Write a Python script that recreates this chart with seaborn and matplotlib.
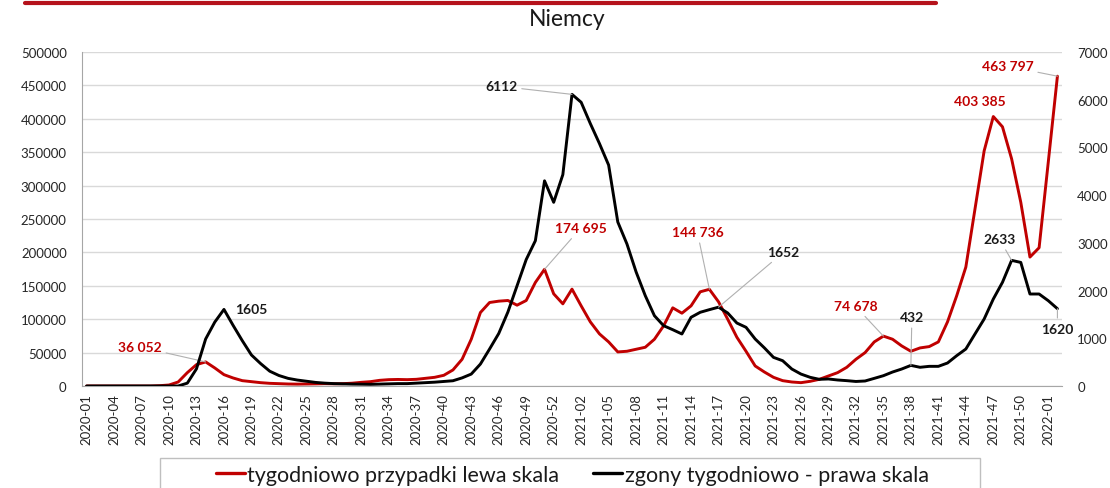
import pandas as pd
import matplotlib.pyplot as plt
import seaborn as sns
from matplotlib.lines import Line2D
from matplotlib.patches import Rectangle

OUT_PATH = "out.png"

RED = "#C00000"
BLACK = "#000000"
GREY = "#A6A6A6"

# week labels 2020-01 .. 2022-02 (2020 has 53 ISO weeks)
WEEKS = ([f"2020-{w:02d}" for w in range(1, 54)]
         + [f"2021-{w:02d}" for w in range(1, 53)]
         + ["2022-01", "2022-02"])

# weekly cases (left scale)
CASES = [
    0, 0, 0, 0, 0, 0, 0, 0, 500, 1500,
    6000, 20000, 32000, 36052, 27000, 17000, 12000, 8000, 6500, 5000,
    4000, 3500, 3000, 2800, 3000, 3200, 3500, 3300, 3500, 4200,
    5500, 6500, 8500, 9500, 9800, 9500, 10000, 11500, 13000, 16000,
    24000, 40000, 70000, 110000, 125000, 127000, 128000, 121000, 128000, 155000,
    174695, 138000, 123000, 145000, 120000, 96000, 78000, 66000, 51000, 52000,
    55000, 58000, 70000, 90000, 117000, 109000, 120000, 141000, 144736, 126000,
    100000, 73000, 52000, 30000, 21000, 13000, 8000, 6000, 5000, 7000,
    10000, 15000, 20000, 28000, 40000, 50000, 66000, 74678, 70000, 60000,
    52000, 57000, 59000, 66000, 96000, 135000, 178000, 265000, 352000, 403385,
    388000, 340000, 275000, 193000, 207000, 335000, 463797,
]

# weekly deaths (right scale)
DEATHS = [
    0, 0, 0, 0, 0, 0, 0, 0, 0, 0,
    0, 60, 360, 985, 1340, 1605, 1270, 950, 650, 470,
    310, 220, 160, 125, 100, 75, 60, 50, 45, 40,
    38, 35, 40, 45, 50, 50, 60, 70, 80, 95,
    110, 170, 250, 460, 775, 1100, 1550, 2100, 2650, 3045,
    4300, 3850, 4430, 6112, 5946, 5500, 5080, 4630, 3437, 2976,
    2390, 1893, 1473, 1264, 1180, 1090, 1440, 1545, 1600, 1652,
    1530, 1320, 1230, 985, 800, 600, 530, 356, 250, 182,
    140, 147, 126, 112, 95, 105, 160, 216, 293, 356,
    432, 392, 412, 412, 482, 635, 775, 1090, 1404, 1823,
    2173, 2633, 2590, 1928, 1928, 1788, 1620,
]

LEGEND_CASES = "tygodniowo przypadki lewa skala"
LEGEND_DEATHS = "zgony tygodniowo - prawa skala"

# (week index, text, offset px dx, dy, leader line)
CASE_LABELS = [
    (13, "36 052", -66, 15, True),
    (50, "174 695", 36, 41, True),
    (68, "144 736", -12, 57, True),
    (87, "74 678", -28, 30, True),
    (99, "403 385", -13, 16, False),
    (106, "463 797", -50, 10, True),
]
DEATH_LABELS = [
    (15, "1605", 27, 0, False),
    (53, "6112", -71, 8, True),
    (69, "1652", 65, 55, True),
    (90, "432", 1, 48, True),
    (101, "2633", -12, 21, True),
    (106, "1620", 0, -20, True),
]


def px(v):
    return v * 0.72


def main():
    df = pd.DataFrame({"week": WEEKS, "cases": CASES, "deaths": DEATHS})
    df["idx"] = range(len(df))

    sns.set_style("white")
    plt.rcParams["font.family"] = ["Lato", "DejaVu Sans"]

    fig = plt.figure(figsize=(11.1, 4.89), dpi=100)
    ax = fig.add_axes([82 / 1110, 102 / 489, 980 / 1110, 334 / 489])
    ax2 = ax.twinx()

    sns.lineplot(data=df, x="idx", y="cases", ax=ax, color=RED, lw=2.1, legend=False)
    sns.lineplot(data=df, x="idx", y="deaths", ax=ax2, color=BLACK, lw=2.1, legend=False)

    ax.set_xlim(-0.5, len(df) - 0.5)
    ax.set_ylim(0, 500000)
    ax2.set_ylim(0, 7000)
    ax.set_yticks(range(0, 500001, 50000))
    ax2.set_yticks(range(0, 7001, 1000))
    ax.set_xticks(df["idx"][::3])
    ax.set_xticklabels(df["week"][::3], rotation=90)
    ax.set_xlabel("")
    ax.set_ylabel("")
    ax2.set_ylabel("")

    ax.yaxis.grid(True, color="#D9D9D9", lw=1)
    ax.xaxis.grid(False)
    for s in ["top", "right"]:
        ax.spines[s].set_visible(False)
    for s in ax2.spines.values():
        s.set_visible(False)
    ax.spines["left"].set_color(GREY)
    ax.spines["bottom"].set_color(GREY)

    ax.tick_params(axis="y", length=0, pad=11, labelsize=9.5, labelcolor="#262626")
    ax.tick_params(axis="x", length=0, pad=5, labelsize=9.5, labelcolor="#262626")
    ax2.tick_params(axis="y", length=0, pad=11, labelsize=9.5, labelcolor="#262626")

    lead = dict(arrowstyle="-", color="#B0B0B0", lw=0.8, shrinkA=1, shrinkB=0)
    for i, txt, dx, dy, line in CASE_LABELS:
        ax.annotate(txt, xy=(i, CASES[i]), xytext=(px(dx), px(dy)),
                    textcoords="offset points", ha="center", va="center",
                    color=RED, fontsize=10, fontweight="bold",
                    arrowprops=lead if line else None, zorder=5)
    for i, txt, dx, dy, line in DEATH_LABELS:
        ax2.annotate(txt, xy=(i, DEATHS[i]), xytext=(px(dx), px(dy)),
                     textcoords="offset points", ha="center", va="center",
                     color="#1a1a1a", fontsize=10, fontweight="bold",
                     arrowprops=lead if line else None, zorder=5)

    fig.text(567 / 1110, 1 - 20 / 489, "Niemcy", ha="center", va="center",
             fontsize=16.5, color="#1a1a1a")

    # red rule at the very top
    fig.add_artist(Line2D([25 / 1110, 936 / 1110], [1 - 4 / 489, 1 - 4 / 489],
                          color="#B5121B", lw=3))

    # legend frame (cut by the bottom edge)
    fig.add_artist(Rectangle((160 / 1110, -10 / 489), 820 / 1110, 40 / 489,
                             transform=fig.transFigure, fill=False,
                             edgecolor="#BFBFBF", lw=1))
    handles = [Line2D([], [], color=RED, lw=2.4), Line2D([], [], color=BLACK, lw=2.4)]
    fig.legend(handles, [LEGEND_CASES, LEGEND_DEATHS], loc="center left",
               bbox_to_anchor=(205 / 1110, 13 / 489), ncol=2, frameon=False,
               fontsize=15.5, borderpad=0, handlelength=1.35, handletextpad=0.1,
               columnspacing=1.6, labelcolor="#1a1a1a")

    fig.savefig(OUT_PATH, dpi=100)
    plt.close(fig)


if __name__ == "__main__":
    main()
